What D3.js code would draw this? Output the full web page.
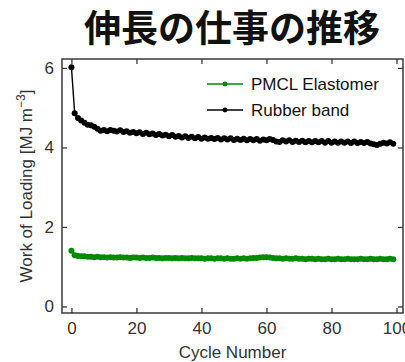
<!DOCTYPE html>
<html>
<head>
<meta charset="utf-8">
<script src="https://cdn.jsdelivr.net/npm/d3@7"></script>
<style>
  html, body { margin: 0; padding: 0; background: #fff; }
  svg { display: block; }
</style>
</head>
<body>
<svg id="chart" width="405" height="362"></svg>
<script>
// Work of loading per cycle (MJ m^-3)
const cycles = d3.range(0, 100);

const rubberBand = [
  6.02, 4.86, 4.74, 4.68, 4.62, 4.57, 4.56, 4.52, 4.47, 4.42,
  4.44, 4.41, 4.44, 4.42, 4.40, 4.43, 4.39, 4.41, 4.37, 4.39,
  4.36, 4.38, 4.34, 4.37, 4.33, 4.35, 4.31, 4.34, 4.30, 4.32,
  4.28, 4.31, 4.27, 4.29, 4.25, 4.28, 4.24, 4.27, 4.23, 4.26,
  4.22, 4.25, 4.22, 4.24, 4.21, 4.24, 4.20, 4.23, 4.20, 4.23,
  4.19, 4.22, 4.19, 4.22, 4.18, 4.21, 4.18, 4.21, 4.17, 4.20,
  4.18, 4.21, 4.19, 4.15, 4.14, 4.18, 4.15, 4.18, 4.14, 4.17,
  4.14, 4.17, 4.13, 4.16, 4.13, 4.16, 4.13, 4.16, 4.12, 4.16,
  4.12, 4.15, 4.12, 4.15, 4.12, 4.15, 4.11, 4.15, 4.11, 4.14,
  4.11, 4.14, 4.10, 4.08, 4.06, 4.09, 4.12, 4.10, 4.13, 4.09
];

const pmcl = [
  1.40, 1.29, 1.27, 1.26, 1.26, 1.25, 1.25, 1.24, 1.25, 1.24,
  1.24, 1.23, 1.24, 1.23, 1.23, 1.24, 1.23, 1.23, 1.22, 1.23,
  1.23, 1.22, 1.23, 1.22, 1.22, 1.23, 1.22, 1.22, 1.21, 1.22,
  1.22, 1.21, 1.22, 1.21, 1.22, 1.21, 1.21, 1.22, 1.21, 1.21,
  1.21, 1.20, 1.21, 1.21, 1.20, 1.21, 1.21, 1.20, 1.21, 1.20,
  1.20, 1.21, 1.20, 1.21, 1.20, 1.21, 1.22, 1.22, 1.23, 1.24,
  1.24, 1.23, 1.22, 1.21, 1.21, 1.20, 1.21, 1.20, 1.20, 1.21,
  1.20, 1.20, 1.19, 1.20, 1.20, 1.19, 1.20, 1.19, 1.19, 1.20,
  1.19, 1.19, 1.20, 1.19, 1.19, 1.20, 1.19, 1.19, 1.19, 1.20,
  1.19, 1.19, 1.20, 1.19, 1.19, 1.20, 1.19, 1.19, 1.20, 1.19
];

const xTicks = [0, 20, 40, 60, 80, 100];
const yTicks = [0, 2, 4, 6];

const seriesNames = ["PMCL Elastomer", "Rubber band"];
const seriesColors = ["#008a00", "#000000"];

const titleText = "伸長の仕事の推移";
const xLabel = "Cycle Number";

// Layout
const plot = { left: 62, right: 403, top: 59, bottom: 313 };
const svg = d3.select("#chart");
const font = "'Liberation Sans', Arial, sans-serif";
const axisColor = "#3a3a3a";

const x = d3.scaleLinear().domain([-2.9, 102]).range([plot.left, plot.right]);
const y = d3.scaleLinear().domain([-0.165, 6.225]).range([plot.bottom, plot.top]);

// Title
svg.append("text")
  .attr("x", 232)
  .attr("y", 42)
  .attr("text-anchor", "middle")
  .attr("font-family", "'Noto Sans CJK JP', sans-serif")
  .attr("font-weight", "bold")
  .attr("font-size", 37)
  .attr("fill", "#111")
  .text(titleText);

// Frame
svg.append("rect")
  .attr("x", plot.left).attr("y", plot.top)
  .attr("width", plot.right - plot.left).attr("height", plot.bottom - plot.top)
  .attr("fill", "none").attr("stroke", axisColor).attr("stroke-width", 1.5);

const tickLen = 5;
function styleAxis(g, showText) {
  g.select(".domain").remove();
  g.selectAll(".tick line").attr("stroke", axisColor).attr("stroke-width", 1.3);
  g.selectAll(".tick text")
    .attr("font-family", font).attr("font-size", 17).attr("fill", "#333")
    .style("display", showText ? null : "none");
}

const intFmt = d3.format("d");

// Bottom axis (ticks inward)
svg.append("g")
  .attr("transform", `translate(0,${plot.bottom})`)
  .call(d3.axisBottom(x).tickValues(xTicks).tickFormat(intFmt).tickSizeInner(-tickLen).tickSizeOuter(0).tickPadding(9))
  .call(g => styleAxis(g, true));

// Top axis mirror ticks
svg.append("g")
  .attr("transform", `translate(0,${plot.top})`)
  .call(d3.axisTop(x).tickValues(xTicks).tickSizeInner(-tickLen).tickSizeOuter(0))
  .call(g => styleAxis(g, false));

// Left axis (ticks inward)
svg.append("g")
  .attr("transform", `translate(${plot.left},0)`)
  .call(d3.axisLeft(y).tickValues(yTicks).tickFormat(intFmt).tickSizeInner(-tickLen).tickSizeOuter(0).tickPadding(8))
  .call(g => styleAxis(g, true));

// Right axis mirror ticks
svg.append("g")
  .attr("transform", `translate(${plot.right},0)`)
  .call(d3.axisRight(y).tickValues(yTicks).tickSizeInner(-tickLen).tickSizeOuter(0))
  .call(g => styleAxis(g, false));

// Axis labels
svg.append("text")
  .attr("x", (plot.left + plot.right) / 2)
  .attr("y", 358)
  .attr("text-anchor", "middle")
  .attr("font-family", font).attr("font-size", 17).attr("fill", "#333")
  .text(xLabel);

const yl = svg.append("text")
  .attr("transform", `translate(32,${(plot.top + plot.bottom) / 2}) rotate(-90)`)
  .attr("text-anchor", "middle")
  .attr("font-family", font).attr("font-size", 17).attr("fill", "#333");
yl.append("tspan").text("Work of Loading [MJ m");
yl.append("tspan").attr("font-size", 12).attr("dy", -7).text("−3");
yl.append("tspan").attr("dy", 7).text("]");

// Series
const data = [pmcl, rubberBand];
const line = d3.line().x((d, i) => x(cycles[i])).y(d => y(d));

svg.append("clipPath").attr("id", "plotClip")
  .append("rect")
  .attr("x", plot.left).attr("y", plot.top)
  .attr("width", plot.right - plot.left).attr("height", plot.bottom - plot.top);

const series = svg.append("g").attr("clip-path", "url(#plotClip)");
data.forEach((vals, k) => {
  const g = series.append("g");
  g.append("path")
    .attr("d", line(vals))
    .attr("fill", "none")
    .attr("stroke", seriesColors[k])
    .attr("stroke-width", 1.4);
  g.selectAll("circle")
    .data(vals)
    .join("circle")
    .attr("cx", (d, i) => x(cycles[i]))
    .attr("cy", d => y(d))
    .attr("r", 3)
    .attr("fill", seriesColors[k]);
});

// Legend
const legend = svg.append("g");
const legendRows = [84, 110];
seriesNames.forEach((name, k) => {
  const ly = legendRows[k];
  legend.append("line")
    .attr("x1", 207).attr("x2", 243).attr("y1", ly).attr("y2", ly)
    .attr("stroke", seriesColors[k]).attr("stroke-width", 1.3);
  legend.append("circle")
    .attr("cx", 225).attr("cy", ly).attr("r", 2.4)
    .attr("fill", seriesColors[k]);
  legend.append("text")
    .attr("x", 251).attr("y", ly + 6)
    .attr("font-family", font).attr("font-size", 17).attr("fill", "#111")
    .text(name);
});
</script>
</body>
</html>
